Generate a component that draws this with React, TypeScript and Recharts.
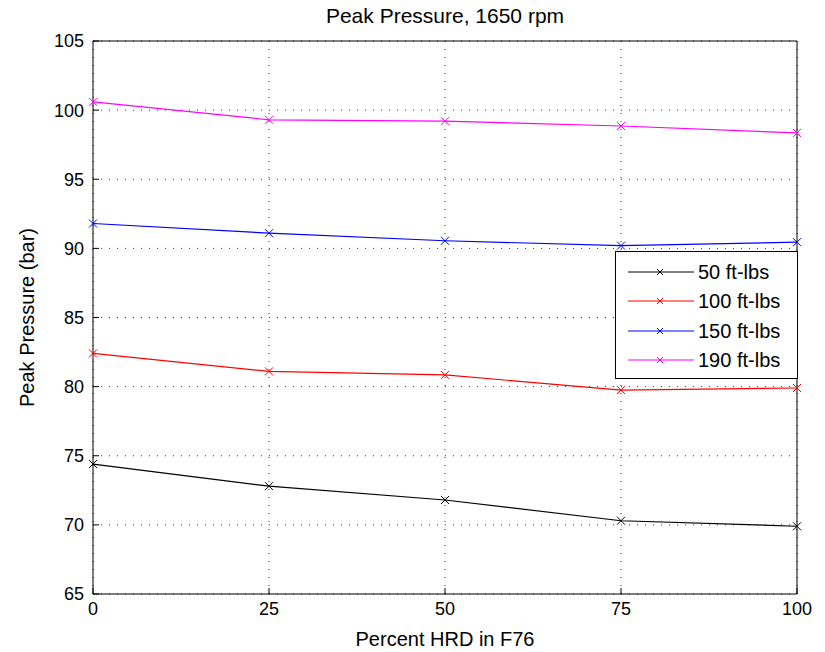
import React from "react";
import { CartesianGrid, Line, LineChart, ReferenceLine, XAxis, YAxis } from "recharts";

// Percent HRD in F76
const hrdPercent = [0, 25, 50, 75, 100];

// Peak pressure (bar) per load
const load50 = [74.4, 72.8, 71.8, 70.3, 69.9];
const load100 = [82.4, 81.1, 80.85, 79.75, 79.9];
const load150 = [91.8, 91.1, 90.55, 90.2, 90.45];
const load190 = [100.6, 99.3, 99.2, 98.85, 98.35];

const xTicks = [0, 25, 50, 75, 100];
const yTicks = [65, 70, 75, 80, 85, 90, 95, 100, 105];

const series = [
  { key: "l50", label: "50 ft-lbs", color: "#000000", values: load50 },
  { key: "l100", label: "100 ft-lbs", color: "#ff0000", values: load100 },
  { key: "l150", label: "150 ft-lbs", color: "#0000ff", values: load150 },
  { key: "l190", label: "190 ft-lbs", color: "#ff00ff", values: load190 },
];

const data = hrdPercent.map((x, i) => {
  const row: Record<string, number> = { x };
  for (const s of series) row[s.key] = s.values[i];
  return row;
});

const FONT = "'Liberation Sans', Arial, sans-serif";

// MATLAB style "x" marker
function CrossDot(props: { cx?: number; cy?: number; stroke?: string }) {
  const { cx, cy, stroke } = props;
  if (cx == null || cy == null) return null;
  const r = 4;
  return (
    <g>
      <line x1={cx - r} y1={cy - r} x2={cx + r} y2={cy + r} stroke={stroke} strokeWidth={1} />
      <line x1={cx - r} y1={cy + r} x2={cx + r} y2={cy - r} stroke={stroke} strokeWidth={1} />
    </g>
  );
}

function LegendBox() {
  return (
    <div
      style={{
        position: "absolute",
        left: 615,
        top: 251,
        border: "1px solid #000",
        background: "#fff",
        width: 183,
        height: 128,
        boxSizing: "border-box",
        paddingTop: 5,
        fontFamily: FONT,
      }}
    >
      {series.map((s) => (
        <div key={s.key} style={{ display: "flex", alignItems: "center", height: 29.5 }}>
          <svg width={82} height={12} style={{ flex: "none" }}>
            <line x1={12} y1={6} x2={78} y2={6} stroke={s.color} strokeWidth={1} />
            <line x1={41} y1={3} x2={47} y2={9} stroke={s.color} />
            <line x1={41} y1={9} x2={47} y2={3} stroke={s.color} />
          </svg>
          <span style={{ fontSize: 20, color: "#000", lineHeight: "20px" }}>{s.label}</span>
        </div>
      ))}
    </div>
  );
}

export default function App() {
  return (
    <div style={{ position: "absolute", left: 0, top: 0, width: 825, height: 652, background: "#fff" }}>
      <div
        style={{
          position: "absolute",
          left: 93,
          width: 704,
          top: 4,
          textAlign: "center",
          fontFamily: FONT,
          fontSize: 21,
          color: "#000",
        }}
      >
        Peak Pressure, 1650 rpm
      </div>
      <LineChart width={825} height={652} data={data} margin={{ top: 41, right: 28, bottom: 0, left: 0 }}>
        <CartesianGrid yAxisId="left" stroke="#000" strokeDasharray="1 7" strokeOpacity={0.8} />
        <XAxis
          dataKey="x"
          type="number"
          domain={[0, 100]}
          ticks={xTicks}
          height={58}
          stroke="#000"
          tickSize={-6}
          tickMargin={14}
          tick={{ fill: "#000", fontSize: 18, fontFamily: FONT }}
          label={{ value: "Percent HRD in F76", position: "insideBottom", offset: 6, fill: "#000", fontSize: 20, fontFamily: FONT }}
        />
        <YAxis
          yAxisId="left"
          type="number"
          domain={[65, 105]}
          ticks={yTicks}
          width={93}
          stroke="#000"
          tickSize={-6}
          tickMargin={15}
          tick={{ fill: "#000", fontSize: 18, fontFamily: FONT }}
          label={{
            value: "Peak Pressure (bar)",
            angle: -90,
            position: "insideLeft",
            offset: 27,
            style: { textAnchor: "middle" },
            fill: "#000",
            fontSize: 20,
            fontFamily: FONT,
          }}
        />
        <ReferenceLine yAxisId="left" y={105} stroke="#000" />
        <ReferenceLine yAxisId="left" x={100} stroke="#000" />
        {series.map((s) => (
          <Line
            key={s.key}
            yAxisId="left"
            dataKey={s.key}
            name={s.label}
            type="linear"
            stroke={s.color}
            strokeWidth={1.2}
            dot={(p: any) => <CrossDot key={`${s.key}-${p.index}`} cx={p.cx} cy={p.cy} stroke={s.color} />}
            activeDot={false}
            isAnimationActive={false}
          />
        ))}
      </LineChart>
      <LegendBox />
    </div>
  );
}
